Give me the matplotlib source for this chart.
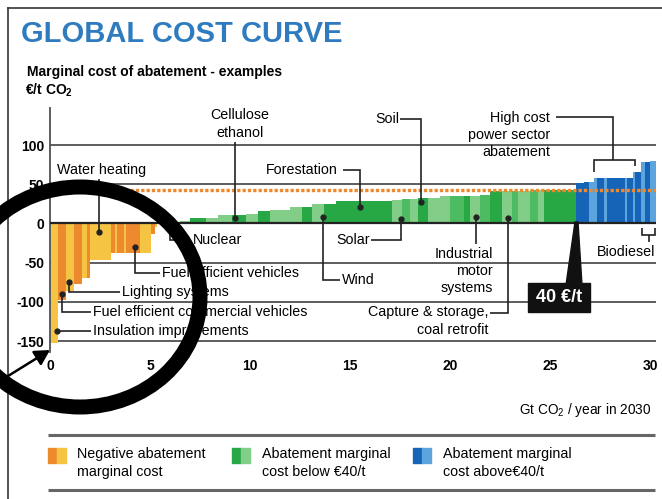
import matplotlib
matplotlib.use("Agg")
import matplotlib.pyplot as plt
from matplotlib.transforms import Affine2D
from matplotlib.lines import Line2D
from matplotlib.patches import Ellipse, FancyArrowPatch, Rectangle, Polygon
import numpy as np

plt.rcParams['font.family'] = ['Liberation Sans', 'DejaVu Sans']
plt.rcParams['mathtext.default'] = 'regular'

# ---------------- data ----------------
neg_widths = [0.38, 0.41, 0.37, 0.43, 0.24, 0.13, 1.08, 0.17, 0.12, 0.33, 0.13, 0.67, 0.58, 0.17, 0.10]
neg_costs = [-153, -98, -86, -77, -70, -70, -47, -38, -38, -38, -38, -38, -38, -13, -5]
neg_shade = [1, 0, 1, 0, 1, 0, 1, 0, 1, 0, 1, 0, 1, 0, 1]   # 0 = orange, 1 = yellow
neg_start = 0.03

green_widths = [1.1, 0.5, 0.8, 0.6, 0.7, 0.7, 0.6, 0.6, 1.0, 0.6, 0.5, 0.6, 0.6, 2.8,
                0.5, 0.4, 0.4, 0.5, 0.6, 0.5, 0.7, 0.3, 0.5, 0.5, 0.6, 0.5, 0.3, 0.6,
                0.4, 0.3, 1.6]
green_costs = [1.5, 3, 6.5, 7, 10.5, 11, 12.5, 16, 17, 21, 21, 25, 25, 28,
               30, 30.5, 31, 33, 33, 35, 35, 35, 35, 36, 41, 41, 41, 41,
               42, 42, 43]
green_shade = [0, 1, 0, 1, 1, 0, 1, 0, 1, 1, 0, 1, 0, 0,
               1, 2, 1, 0, 1, 1, 2, 0, 1, 2, 0, 1, 2, 1,
               2, 1, 0]   # 0 dark, 1 light, 2 medium

blue_widths = [0.4, 0.25, 0.25, 0.15, 0.35, 0.15, 0.9, 0.1, 0.3, 0.1, 0.3, 0.2, 0.25, 0.3]
blue_costs = [51, 53, 53, 58, 58, 58, 58, 58, 58, 66, 66, 78, 78, 80]
blue_shade = [0, 0, 1, 1, 0, 1, 0, 1, 0, 1, 0, 1, 0, 1]   # 0 dark, 1 light

threshold = 43
y_ticks = [-150, -100, -50, 0, 50, 100]
y_ticklabels = ["-150", "-100", "-50", "0", "50", "100"]
x_ticks = [0, 5, 10, 15, 20, 25, 30]
x_ticklabels = ["0", "5", "10", "15", "20", "25", "30"]

legend_labels = ["Negative abatement\nmarginal cost",
                 "Abatement marginal\ncost below \u20ac40/t",
                 "Abatement marginal\ncost above\u20ac40/t"]

# ---------------- colours ----------------
ORANGE = "#EE8A2E"
YELLOW = "#F6C443"
G_DARK = "#27A845"
G_LIGHT = "#82CD88"
G_MED = "#4DBB62"
B_DARK = "#1664B8"
B_LIGHT = "#5BA4DD"
GRID = "#505050"
TITLE_BLUE = "#2E7BC0"

FW, FH = 662, 499
fig = plt.figure(figsize=(FW / 100, FH / 100), dpi=100)
fig.patch.set_facecolor("white")
T = Affine2D().scale(1 / FW, -1 / FH).translate(0, 1) + fig.transFigure

ax = fig.add_axes([50 / FW, 1 - 352 / FH, 606 / FW, 244 / FH])
ax.set_xlim(0, 30.3)
ax.set_ylim(-164, 147.2)

# gridlines
for yv in y_ticks:
    if yv == 0:
        continue
    ax.axhline(yv, color=GRID, lw=1.3, zorder=1)

def draw_bars(start, widths, costs, shades, palette):
    lefts = start + np.concatenate([[0], np.cumsum(widths)[:-1]])
    ax.bar(lefts, costs, width=widths, align="edge",
           color=[palette[s] for s in shades], linewidth=0, zorder=2)
    return start + sum(widths)

end_neg = draw_bars(neg_start, neg_widths, neg_costs, neg_shade, [ORANGE, YELLOW])
end_green = draw_bars(end_neg + 0.06, green_widths, green_costs, green_shade, [G_DARK, G_LIGHT, G_MED])
draw_bars(end_green, blue_widths, blue_costs, blue_shade, [B_DARK, B_LIGHT])

ax.axhline(0, color="#222222", lw=1.6, zorder=3)
ax.axhline(threshold, color=ORANGE, lw=2.4, ls=(0, (1.0, 0.6)), zorder=4)

for s in ["top", "right", "bottom"]:
    ax.spines[s].set_visible(False)
ax.spines["left"].set_color(GRID)
ax.spines["left"].set_linewidth(1.3)
ax.set_yticks(y_ticks)
ax.set_yticklabels(y_ticklabels, fontsize=10, fontweight="bold")
ax.set_xticks(x_ticks)
ax.set_xticklabels(x_ticklabels, fontsize=10, fontweight="bold")
ax.tick_params(axis="both", length=0, pad=4)
ax.tick_params(axis="x", pad=5)
ax.set_facecolor("none")

# ---------------- helpers ----------------
FS = 10.3
LS = 1.28

def line(pts, lw=1.2, color="#222222", z=6):
    xs, ys = zip(*pts)
    fig.add_artist(Line2D(xs, ys, transform=T, color=color, lw=lw, zorder=z,
                          solid_capstyle="butt", solid_joinstyle="miter"))

def dot(x, y):
    fig.add_artist(Line2D([x], [y], transform=T, marker="o", ms=3.5,
                          color="#222222", zorder=7))

def text(x, y, s, size=FS, ha="left", va="center", z=8, **kw):
    fig.text(x, y, s, transform=T, fontsize=size, ha=ha, va=va, zorder=z, **kw)

# ---------------- titles ----------------
fig.add_artist(Line2D([8, 8], [8, 499], transform=T, color="#333333", lw=1.2))
fig.add_artist(Line2D([8, 662], [8, 8], transform=T, color="#333333", lw=1.2))
text(21, 34, "GLOBAL COST CURVE", size=21, color=TITLE_BLUE, fontweight="bold")
text(27, 72, "Marginal cost of abatement - examples", size=10, fontweight="bold")
text(25, 90, "\u20ac/t CO$_2$", size=10, fontweight="bold")
text(651, 410, "Gt CO$_2$ / year in 2030", size=9.8, ha="right")

# ---------------- annotations ----------------
# Water heating
text(57, 170, "Water heating")
line([(99, 179), (99, 232)]); dot(99, 232)
# Cellulose ethanol
text(240, 124, "Cellulose\nethanol", ha="center", linespacing=LS)
line([(235, 142), (235, 218)]); dot(235, 218)
# Soil
text(375, 119, "Soil")
line([(400, 119), (421, 119), (421, 202)]); dot(421, 202)
# Forestation
text(266, 170, "Forestation")
line([(343, 170), (360, 170), (360, 207)]); dot(360, 207)
# Solar
text(336, 240, "Solar")
line([(371, 240), (401, 240), (401, 219)]); dot(401, 219)
# Wind
text(342, 280, "Wind")
line([(340, 280), (323, 280), (323, 217)]); dot(323, 217)
# Nuclear
text(193, 240, "Nuclear")
line([(170, 231), (170, 240), (180, 240)])
# Fuel efficient vehicles
text(162, 273, "Fuel efficient vehicles")
line([(160, 273), (135, 273), (135, 247)]); dot(135, 247)
# Lighting systems
text(122, 292, "Lighting systems")
line([(120, 292), (69, 292), (69, 282)]); dot(69, 282)
# Fuel efficient commercial vehicles
text(93, 312, "Fuel efficient commercial vehicles")
line([(91, 312), (62, 312), (62, 294)]); dot(62, 294)
# Insulation improvements
text(93, 331, "Insulation improvements")
line([(91, 331), (57, 331)]); dot(57, 331)
# Industrial motor systems
text(493, 271, "Industrial\nmotor\nsystems", ha="right", linespacing=LS)
line([(476, 244), (476, 217)]); dot(476, 217)
# Capture & storage
text(488, 321, "Capture & storage,\ncoal retrofit", ha="right", linespacing=LS)
line([(490, 313), (508, 313), (508, 218)]); dot(508, 218)
# High cost power sector abatement
text(550, 135, "High cost\npower sector\nabatement", ha="right", linespacing=LS)
line([(556, 117), (613, 117), (613, 160)])
line([(594, 172), (594, 160), (635, 160), (635, 166)])
# Biodiesel
text(626, 252, "Biodiesel", ha="center")
line([(642, 228), (642, 235), (655, 235), (655, 228)])
line([(649, 235), (649, 242)])

# 40 EUR/t label
fig.add_artist(Polygon([(575, 222), (578, 222), (582, 285), (566, 285)],
                       closed=True, transform=T, color="#111111", zorder=9))
fig.add_artist(Rectangle((528, 283), 62, 29, transform=T, color="#111111", zorder=9))
text(559, 298, "40 \u20ac/t", size=13, ha="center", color="white",
     fontweight="bold", z=10)

# ---------------- magnifier ring and arrow ----------------
fig.add_artist(Ellipse((80, 297), 240, 220, transform=T, fill=False,
                       ec="black", lw=10.8, zorder=11))
fig.add_artist(FancyArrowPatch((0, 381), (50, 350), transform=T,
                               arrowstyle="-|>,head_length=9,head_width=5",
                               lw=1.8, color="black", zorder=11,
                               shrinkA=0, shrinkB=0))

# ---------------- legend ----------------
line([(48, 435), (655, 435)], lw=2.2, color="#666666")
line([(48, 490), (655, 490)], lw=2.2, color="#666666")
sw = [(48, [ORANGE, YELLOW], 77, legend_labels[0]),
      (232, [G_DARK, G_LIGHT], 262, legend_labels[1]),
      (413, [B_DARK, B_LIGHT], 443, legend_labels[2])]
for x0, cols, tx, lab in sw:
    fig.add_artist(Rectangle((x0, 448), 9, 15, transform=T, color=cols[0]))
    fig.add_artist(Rectangle((x0 + 9, 448), 9, 15, transform=T, color=cols[1]))
    text(tx, 463, lab, linespacing=LS)

fig.savefig("out.png", dpi=100)
